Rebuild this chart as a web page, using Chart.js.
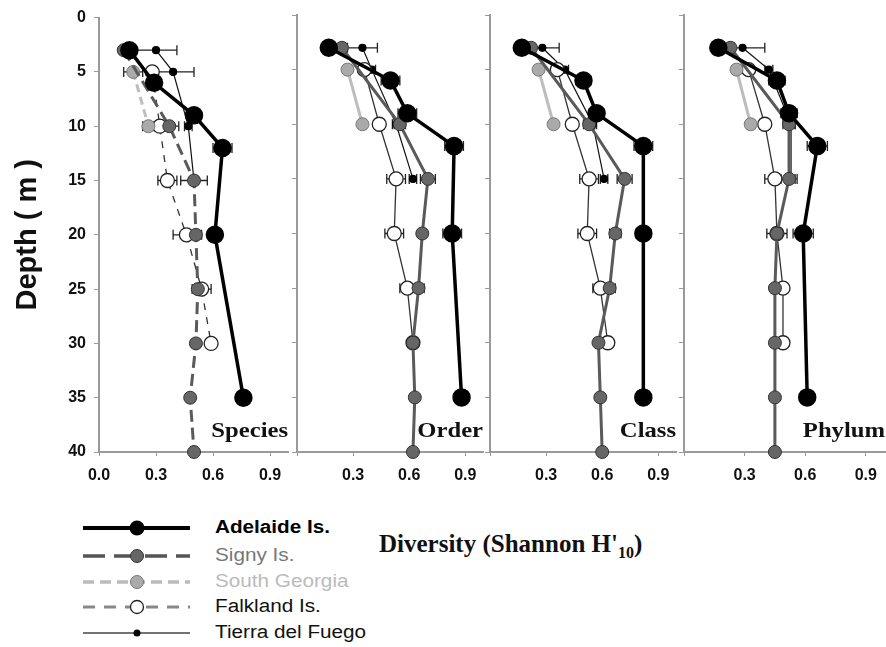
<!DOCTYPE html>
<html>
<head>
<meta charset="utf-8">
<script src="https://cdn.jsdelivr.net/npm/chart.js@4.4.1/dist/chart.umd.min.js"></script>
<style>
  html, body { margin: 0; padding: 0; background: #fff; overflow: hidden; }
  #wrap { position: relative; width: 886px; height: 647px; }
  canvas { position: absolute; top: 0; }
  #legend { position: absolute; left: 70px; top: 512px; }
  .lg { position: absolute; left: 215px; font-family: "Liberation Sans", Arial, sans-serif; font-size: 18px; white-space: nowrap; transform: scaleX(1.15); transform-origin: left center; }
  #divTitle { position: absolute; left: 379px; top: 530px; font-family: "Liberation Serif", "Times New Roman", serif; font-weight: bold; font-size: 25px; white-space: nowrap; color: #111; }
  #divTitle sub { font-size: 16px; }
</style>
</head>
<body>
<div id="wrap">
  <canvas id="species" width="289" height="495" style="left:0px"></canvas>
  <canvas id="order" width="197" height="495" style="left:287px"></canvas>
  <canvas id="class" width="197" height="495" style="left:480px"></canvas>
  <canvas id="phylum" width="212" height="495" style="left:674px"></canvas>

  <svg id="legend" width="140" height="135">
    <line x1="13" y1="16" x2="120" y2="16" stroke="#000" stroke-width="4"/>
    <circle cx="67" cy="16" r="7.5" fill="#000"/>
    <line x1="13" y1="44" x2="120" y2="44" stroke="#555" stroke-width="3.5" stroke-dasharray="22,9"/>
    <circle cx="67" cy="44" r="6.5" fill="#666" stroke="#333" stroke-width="1"/>
    <line x1="13" y1="70" x2="120" y2="70" stroke="#bbb" stroke-width="3.5" stroke-dasharray="11,6"/>
    <circle cx="67" cy="70" r="6.5" fill="#aaa" stroke="#777" stroke-width="1"/>
    <line x1="13" y1="95" x2="120" y2="95" stroke="#888" stroke-width="3" stroke-dasharray="12,9"/>
    <circle cx="67" cy="95" r="6.5" fill="#fff" stroke="#222" stroke-width="1.3"/>
    <line x1="13" y1="121" x2="120" y2="121" stroke="#444" stroke-width="1.5"/>
    <circle cx="67" cy="121" r="3.5" fill="#000"/>
  </svg>
  <div class="lg" style="top:517px;font-weight:bold;color:#000">Adelaide Is.</div>
  <div class="lg" style="top:545px;color:#777">Signy Is.</div>
  <div class="lg" style="top:571px;color:#bbb">South Georgia</div>
  <div class="lg" style="top:596px;color:#111">Falkland Is.</div>
  <div class="lg" style="top:622px;color:#111">Tierra del Fuego</div>
  <div id="divTitle">Diversity (Shannon H'<sub>10</sub>)</div>
</div>

<script>
// depths sampled at each site (m)
const depthAdelaide = [3, 6, 9, 12, 20, 35];
const depthSigny = [3, 10, 15, 20, 25, 30, 35, 40];
const depthSouthGeorgia = [5, 10];
const depthFalkland = [5, 10, 15, 20, 25, 30];
const depthTierra = [3, 5, 10, 15];

const xTicks = [0, 0.3, 0.6, 0.9];
const yTicks = [0, 5, 10, 15, 20, 25, 30, 35, 40];

// Species level
const speciesAdelaide = [0.16, 0.29, 0.50, 0.65, 0.61, 0.76];
const speciesAdelaideErr = [0.02, 0.02, 0.03, 0.05, 0.03, 0.02];
const speciesSigny = [0.13, 0.37, 0.50, 0.51, 0.52, 0.51, 0.48, 0.50];
const speciesSignyErr = [0.02, 0.05, 0.07, 0.03, 0.02, 0.02, 0.01, 0.01];
const speciesSouthGeorgia = [0.18, 0.26];
const speciesSouthGeorgiaErr = [0.05, 0.03];
const speciesFalkland = [0.28, 0.32, 0.36, 0.46, 0.54, 0.59];
const speciesFalklandErr = [0.02, 0.03, 0.05, 0.07, 0.05, 0.02];
const speciesTierra = [0.30, 0.39, 0.47, 0.50];
const speciesTierraErr = [0.11, 0.11, 0.02, 0.02];

// Order level
const orderAdelaide = [0.17, 0.50, 0.59, 0.84, 0.83, 0.88];
const orderAdelaideErr = [0.02, 0.05, 0.05, 0.05, 0.05, 0.03];
const orderSigny = [0.24, 0.55, 0.70, 0.67, 0.65, 0.62, 0.63, 0.62];
const orderSignyErr = [0.02, 0.03, 0.04, 0.02, 0.03, 0.02, 0.01, 0.02];
const orderSouthGeorgia = [0.27, 0.35];
const orderSouthGeorgiaErr = [0.02, 0.02];
const orderFalkland = [0.36, 0.44, 0.53, 0.52, 0.59, 0.62];
const orderFalklandErr = [0.02, 0.02, 0.05, 0.05, 0.04, 0.02];
const orderTierra = [0.35, 0.40, 0.53, 0.62];
const orderTierraErr = [0.08, 0.02, 0.02, 0.02];

// Class level
const classAdelaide = [0.17, 0.50, 0.57, 0.82, 0.82, 0.82];
const classAdelaideErr = [0.02, 0.04, 0.04, 0.05, 0.04, 0.02];
const classSigny = [0.22, 0.53, 0.72, 0.67, 0.64, 0.58, 0.59, 0.60];
const classSignyErr = [0.02, 0.03, 0.04, 0.03, 0.03, 0.02, 0.01, 0.02];
const classSouthGeorgia = [0.26, 0.34];
const classSouthGeorgiaErr = [0.02, 0.02];
const classFalkland = [0.36, 0.44, 0.53, 0.52, 0.59, 0.63];
const classFalklandErr = [0.02, 0.02, 0.05, 0.05, 0.04, 0.02];
const classTierra = [0.28, 0.40, 0.55, 0.61];
const classTierraErr = [0.09, 0.02, 0.02, 0.02];

// Phylum level
const phylumAdelaide = [0.17, 0.46, 0.52, 0.66, 0.59, 0.61];
const phylumAdelaideErr = [0.02, 0.04, 0.04, 0.05, 0.05, 0.03];
const phylumSigny = [0.23, 0.52, 0.52, 0.46, 0.45, 0.45, 0.45, 0.45];
const phylumSignyErr = [0.02, 0.03, 0.04, 0.02, 0.02, 0.02, 0.01, 0.02];
const phylumSouthGeorgia = [0.26, 0.33];
const phylumSouthGeorgiaErr = [0.02, 0.02];
const phylumFalkland = [0.32, 0.40, 0.45, 0.46, 0.49, 0.49];
const phylumFalklandErr = [0.02, 0.02, 0.05, 0.05, 0.02, 0.02];
const phylumTierra = [0.29, 0.42, 0.53, 0.53];
const phylumTierraErr = [0.11, 0.02, 0.02, 0.02];

const SANS = '"Liberation Sans", Arial, sans-serif';
const SERIF = '"Liberation Serif", "Times New Roman", serif';
const AXIS_GREY = "#9a9a9a";

function pts(vals, depths, errs) {
  return vals.map((v, i) => ({ x: v, y: depths[i], e: errs[i] }));
}

// horizontal error bars, drawn under the markers
const errorBars = {
  id: "errorBars",
  beforeDatasetsDraw(chart) {
    const ctx = chart.ctx;
    const xs = chart.scales.x;
    const ys = chart.scales.y;
    ctx.save();
    ctx.strokeStyle = "#222";
    ctx.lineWidth = 1.3;
    chart.data.datasets.forEach((ds) => {
      ds.data.forEach((p) => {
        if (!p.e) return;
        const a = xs.getPixelForValue(p.x - p.e);
        const b = xs.getPixelForValue(p.x + p.e);
        const y = ys.getPixelForValue(p.y);
        ctx.beginPath();
        ctx.moveTo(a, y); ctx.lineTo(b, y);
        ctx.moveTo(a, y - 5); ctx.lineTo(a, y + 5);
        ctx.moveTo(b, y - 5); ctx.lineTo(b, y + 5);
        ctx.stroke();
      });
    });
    ctx.restore();
  },
};

// "Species", "Order" ... in the lower right corner of each panel
const panelLabel = {
  id: "panelLabel",
  afterDraw(chart, args, opts) {
    const ctx = chart.ctx;
    const area = chart.chartArea;
    ctx.save();
    ctx.font = "bold 22px " + SERIF;
    ctx.fillStyle = "#111";
    ctx.textAlign = "right";
    ctx.textBaseline = "alphabetic";
    ctx.translate(area.right - 1, area.bottom - 15);
    ctx.scale(1.12, 1);
    ctx.fillText(opts.text, 0, 0);
    ctx.restore();
  },
};

function makePanel(id, title, sets, first, dashed) {
  const datasets = [
    {
      label: "Adelaide Is.",
      data: pts(sets[0], depthAdelaide, sets[1]),
      borderColor: "#000", borderWidth: 3.5,
      pointRadius: 7.5, pointBackgroundColor: "#000", pointBorderColor: "#000",
    },
    {
      label: "Signy Is.",
      data: pts(sets[2], depthSigny, sets[3]),
      borderColor: "#5a5a5a", borderWidth: 3, borderDash: dashed ? [12, 6] : [],
      pointRadius: 6.5, pointBackgroundColor: "#666", pointBorderColor: "#333", pointBorderWidth: 1,
    },
    {
      label: "South Georgia",
      data: pts(sets[4], depthSouthGeorgia, sets[5]),
      borderColor: "#bdbdbd", borderWidth: 3, borderDash: dashed ? [8, 5] : [],
      pointRadius: 6.5, pointBackgroundColor: "#aaa", pointBorderColor: "#777", pointBorderWidth: 1,
    },
    {
      label: "Falkland Is.",
      data: pts(sets[6], depthFalkland, sets[7]),
      borderColor: "#333", borderWidth: 1.3, borderDash: dashed ? [7, 7] : [],
      pointRadius: 7, pointBackgroundColor: "#fff", pointBorderColor: "#222", pointBorderWidth: 1.3,
    },
    {
      label: "Tierra del Fuego",
      data: pts(sets[8], depthTierra, sets[9]),
      borderColor: "#111", borderWidth: 1.2,
      pointRadius: 3.5, pointBackgroundColor: "#000", pointBorderColor: "#000",
    },
  ];
  datasets.forEach((d) => { d.showLine = true; d.clip = false; d.pointHoverRadius = d.pointRadius; });

  new Chart(document.getElementById(id), {
    type: "scatter",
    data: { datasets: datasets },
    plugins: [errorBars, panelLabel],
    options: {
      responsive: false,
      animation: false,
      layout: { autoPadding: false, padding: { top: 15, right: 0, bottom: 0, left: 0 } },
      plugins: {
        legend: { display: false },
        tooltip: { enabled: false },
        panelLabel: { text: title },
      },
      scales: {
        x: {
          type: "linear",
          min: 0, max: 1.0,
          afterBuildTicks: (s) => { s.ticks = xTicks.map((v) => ({ value: v })); },
          afterFit: (s) => { s.height = 43; s.paddingLeft = 0; s.paddingRight = 0; },
          border: { color: AXIS_GREY, width: 2 },
          grid: { drawOnChartArea: false, drawTicks: true, tickLength: 4, color: AXIS_GREY },
          ticks: {
            padding: 10,
            color: "#111",
            font: { family: SANS, size: 16, weight: "bold" },
            callback: (v) => (!first && v === 0 ? "" : v.toFixed(1)),
          },
        },
        y: {
          type: "linear",
          reverse: true,
          min: 0, max: 40,
          afterBuildTicks: (s) => { s.ticks = yTicks.map((v) => ({ value: v })); },
          afterFit: (s) => { s.width = first ? 99 : 10; },
          border: { color: AXIS_GREY, width: 2 },
          grid: { drawOnChartArea: false, drawTicks: true, tickLength: 5, color: AXIS_GREY },
          title: {
            display: first,
            text: "Depth ( m )",
            color: "#111",
            font: { family: SANS, size: 29, weight: "bold" },
            padding: { top: 11, bottom: 0 },
          },
          ticks: {
            display: first,
            padding: 8,
            color: "#111",
            font: { family: SANS, size: 16, weight: "bold" },
          },
        },
      },
    },
  });
}

makePanel("species", "Species", [speciesAdelaide, speciesAdelaideErr, speciesSigny, speciesSignyErr,
  speciesSouthGeorgia, speciesSouthGeorgiaErr, speciesFalkland, speciesFalklandErr, speciesTierra, speciesTierraErr], true, true);
makePanel("order", "Order", [orderAdelaide, orderAdelaideErr, orderSigny, orderSignyErr,
  orderSouthGeorgia, orderSouthGeorgiaErr, orderFalkland, orderFalklandErr, orderTierra, orderTierraErr], false, false);
makePanel("class", "Class", [classAdelaide, classAdelaideErr, classSigny, classSignyErr,
  classSouthGeorgia, classSouthGeorgiaErr, classFalkland, classFalklandErr, classTierra, classTierraErr], false, false);
makePanel("phylum", "Phylum", [phylumAdelaide, phylumAdelaideErr, phylumSigny, phylumSignyErr,
  phylumSouthGeorgia, phylumSouthGeorgiaErr, phylumFalkland, phylumFalklandErr, phylumTierra, phylumTierraErr], false, false);
</script>
</body>
</html>
